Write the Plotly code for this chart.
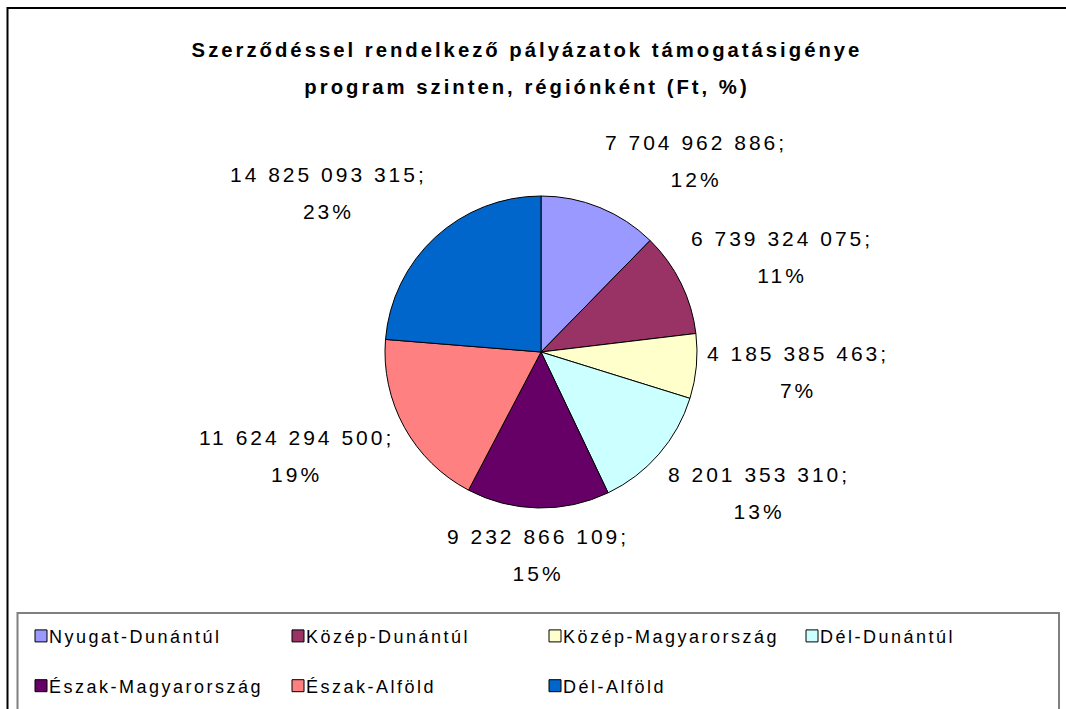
import math
import plotly.graph_objects as go

regions = ["Nyugat-Dunántúl", "Közép-Dunántúl", "Közép-Magyarország", "Dél-Dunántúl",
           "Észak-Magyarország", "Észak-Alföld", "Dél-Alföld"]
values = [7704962886, 6739324075, 4185385463, 8201353310, 9232866109, 11624294500, 14825093315]
value_labels = ["7 704 962 886", "6 739 324 075", "4 185 385 463", "8 201 353 310",
                "9 232 866 109", "11 624 294 500", "14 825 093 315"]
percent_labels = ["12%", "11%", "7%", "13%", "15%", "19%", "23%"]
colors = ["#9999FF", "#993366", "#FFFFCC", "#CCFFFF", "#660066", "#FF8080", "#0066CC"]

W, H = 1066, 709
FONT = "Liberation Sans, Arial, sans-serif"

cx, cy, r = 541, 352, 156   # pie centre / radius in pixels
label_r = r + 9             # anchor radius for the outside labels
half_h = 38                 # vertical offset of a label block from its anchor

fig = go.Figure(go.Pie(
    labels=regions, values=values, textinfo="none", sort=False,
    direction="clockwise", rotation=0,
    marker=dict(colors=colors, line=dict(color="black", width=1)),
    domain=dict(x=[(cx - r) / W, (cx + r) / W], y=[(H - cy - r) / H, (H - cy + r) / H]),
    hoverinfo="label+value+percent",
))

# data labels, placed Excel-style at the middle angle of each slice
total = sum(values)
cum = 0
annotations = []
for v, vl, pl in zip(values, value_labels, percent_labels):
    mid = (cum + v / 2) / total * 2 * math.pi
    cum += v
    s, c = math.sin(mid), math.cos(mid)
    px = cx + label_r * s
    py = cy - label_r * c
    xa = "left" if s > 0.3 else ("right" if s < -0.3 else "center")
    fy = max(-1.0, min(1.0, c / 0.75))
    annotations.append(dict(
        x=px / W, y=1 - py / H, xref="paper", yref="paper", xanchor=xa, yanchor="middle",
        yshift=fy * half_h,
        text=f"{vl};<br>{pl}", showarrow=False, align="center",
        font=dict(family=FONT, size=21, color="black")))

fig.update_layout(
    width=W, height=H, margin=dict(l=0, r=0, t=0, b=0),
    paper_bgcolor="white", plot_bgcolor="white",
    title=dict(text="Szerződéssel rendelkező pályázatok támogatásigénye<br>program szinten, régiónként (Ft, %)",
               x=527 / W, xanchor="center", y=1 - 57 / H, yanchor="top",
               font=dict(family=FONT, size=20.3, color="black", weight="bold")),
    annotations=annotations,
    showlegend=True,
    legend=dict(orientation="h", x=21 / W, xanchor="left", y=0, yanchor="bottom",
                entrywidth=212, entrywidthmode="pixels",
                font=dict(family=FONT, size=36, color="black"),
                bgcolor="rgba(0,0,0,0)", traceorder="normal"),
    shapes=[
        dict(type="rect", xref="paper", yref="paper", x0=7.5 / W, x1=1.01, y0=-0.01, y1=1 - 8 / H,
             line=dict(color="black", width=2), fillcolor="rgba(0,0,0,0)", layer="below"),
        dict(type="rect", xref="paper", yref="paper", x0=17.5 / W, x1=1059 / W, y0=-0.01, y1=1 - 613 / H,
             line=dict(color="#808080", width=2), fillcolor="rgba(0,0,0,0)", layer="below"),
    ],
)

post = """
document.body.style.margin='0';
var gd=document.getElementById('{plot_id}');
var s=document.createElement('style');
s.textContent='.gtitle{letter-spacing:3px;} .annotation-text{letter-spacing:3px;} .legendtext{letter-spacing:2.5px;}';
document.head.appendChild(s);
(gd.layout.annotations||[]).forEach(function(a){ a.font.family='Liberation Sans, Arial'; });
Plotly.newPlot(gd, gd.data, gd.layout, {displayModeBar:false, responsive:false}).then(function(){
  var s2=document.createElement('style');
  s2.textContent='.legendtext{font-size:18px !important; transform:translate(-12px,0px);} .legendpoints{transform:translateY(7px);}';
  document.head.appendChild(s2);
  // widen the gap between the two lines of the labels and of the title
  var extra = 9.7;
  document.querySelectorAll('g.annotation').forEach(function(g){
    var t = g.querySelector('text.annotation-text');
    if(!t) return;
    var lines = t.querySelectorAll('tspan.line');
    if(lines.length < 2) return;
    lines[1].setAttribute('dy', (27.3 + extra) + 'px');
    t.style.transform = 'translateY(' + (-extra / 2) + 'px)';
  });
  var tt = document.querySelector('text.gtitle');
  if(tt){
    var tl = tt.querySelectorAll('tspan.line');
    if(tl.length > 1){ tl[1].setAttribute('dy', '37px'); }
  }
});
"""
fig.write_html("out.html", post_script=post, config={"displayModeBar": False})
